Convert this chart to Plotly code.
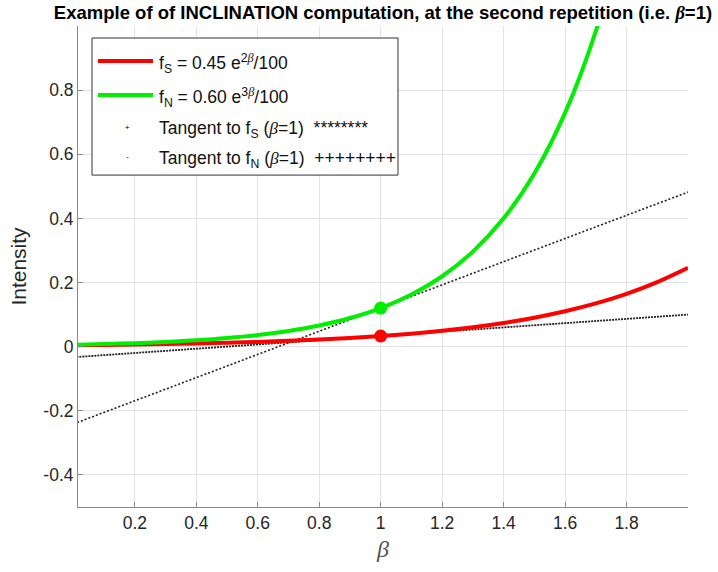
import plotly.graph_objects as go

# ---- data ----
beta = [0.0, 0.1, 0.2, 0.3, 0.4, 0.5, 0.6, 0.7, 0.8, 0.9, 1.0,
        1.1, 1.2, 1.3, 1.4, 1.5, 1.6, 1.7, 1.8, 1.9, 2.0]
f_s = [0.0045, 0.0055, 0.0067, 0.0082, 0.0100, 0.0122, 0.0149, 0.0183, 0.0223, 0.0272, 0.0333,
       0.0406, 0.0496, 0.0606, 0.0740, 0.0904, 0.1104, 0.1348, 0.1647, 0.2012, 0.2457]
f_n = [0.0060, 0.0081, 0.0109, 0.0148, 0.0199, 0.0269, 0.0363, 0.0490, 0.0661, 0.0893, 0.1205,
       0.1627, 0.2196, 0.2964, 0.4001, 0.5401, 0.7291, 0.9841, 1.3280, None, None]
tan_x = [0.0, 2.0]
tan_s = [-0.033, 0.100]
tan_n = [-0.241, 0.482]
pt_x = [1.0]
pt_s = [0.0333]
pt_n = [0.1205]
xticks = [0.2, 0.4, 0.6, 0.8, 1.0, 1.2, 1.4, 1.6, 1.8]
xtick_text = ["0.2", "0.4", "0.6", "0.8", "1", "1.2", "1.4", "1.6", "1.8"]
yticks = [-0.4, -0.2, 0, 0.2, 0.4, 0.6, 0.8]
ytick_text = ["-0.4", "-0.2", "0", "0.2", "0.4", "0.6", "0.8"]

FONT = "Liberation Sans, Arial, sans-serif"
BETA = '<span style="font-family:Liberation Serif, serif"><i>β</i></span>'

fig = go.Figure()
fig.add_trace(go.Scatter(x=tan_x, y=tan_s, mode="lines",
                         line=dict(color="#222222", width=1.8, dash="2px,1px"), showlegend=False))
fig.add_trace(go.Scatter(x=tan_x, y=tan_n, mode="lines",
                         line=dict(color="#222222", width=1.6, dash="2px,2px"), showlegend=False))
fig.add_trace(go.Scatter(x=beta, y=f_s, mode="lines", line=dict(color="#ff0000", width=4, shape="spline"),
                         showlegend=False))
fig.add_trace(go.Scatter(x=beta, y=f_n, mode="lines", line=dict(color="#00ee00", width=4, shape="spline"),
                         showlegend=False))
fig.add_trace(go.Scatter(x=pt_x, y=pt_s, mode="markers", marker=dict(color="#ff0000", size=13), showlegend=False))
fig.add_trace(go.Scatter(x=pt_x, y=pt_n, mode="markers", marker=dict(color="#00ee00", size=13), showlegend=False))

# ---- plot area geometry in pixels ----
L, R, T, B = 78, 688, 26, 506.7
W, H = 718, 572


def px(x):
    return (x - L) / (R - L)


def py(y):
    return (B - y) / (B - T)


shapes = []
annotations = []
# legend box
shapes.append(dict(type="rect", xref="paper", yref="paper", x0=px(92), x1=px(398), y0=py(38), y1=py(175),
                   line=dict(color="#333333", width=1), fillcolor="white", layer="above"))
rows = [61, 95, 127, 157]
shapes.append(dict(type="line", xref="paper", yref="paper", x0=px(98), x1=px(153), y0=py(rows[0]), y1=py(rows[0]),
                   line=dict(color="#ff0000", width=4), layer="above"))
shapes.append(dict(type="line", xref="paper", yref="paper", x0=px(98), x1=px(153), y0=py(rows[1]), y1=py(rows[1]),
                   line=dict(color="#00ee00", width=4), layer="above"))
labels = [
    "f<sub>S</sub> = 0.45 e<sup>2" + BETA + "</sup>/100",
    "f<sub>N</sub> = 0.60 e<sup>3" + BETA + "</sup>/100",
    "Tangent to f<sub>S</sub> (" + BETA + "=1)  ********",
    "Tangent to f<sub>N</sub> (" + BETA + "=1)  ++++++++",
]
for r, lab in zip(rows, labels):
    annotations.append(dict(xref="paper", yref="paper", x=px(157), y=py(r + 2), text=lab, showarrow=False,
                            xanchor="left", yanchor="middle", font=dict(family=FONT, size=17.5, color="#111111")))
annotations.append(dict(xref="paper", yref="paper", x=px(127), y=py(rows[2]), text="+", showarrow=False,
                        xanchor="center", yanchor="middle", font=dict(family=FONT, size=8, color="#000000")))
annotations.append(dict(xref="paper", yref="paper", x=px(127), y=py(rows[3]), text="·", showarrow=False,
                        xanchor="center", yanchor="middle", font=dict(family=FONT, size=10, color="#000000")))

fig.update_layout(
    width=W, height=H,
    margin=dict(l=L, r=W - R, t=T, b=H - B),
    plot_bgcolor="white", paper_bgcolor="white",
    font=dict(family=FONT, color="#262626"),
    title=dict(text="<b>Example of of INCLINATION computation, at the second repetition (i.e. </b>"
                    + '<span style="font-family:Liberation Serif, serif"><b><i>β</i></b></span><b>=1)</b>',
               x=(L + R) / 2 / W, xanchor="center", y=1 - 13 / H, yanchor="middle",
               font=dict(family=FONT, size=18.5, color="#000000")),
    xaxis=dict(range=[0.015, 2.0], tickvals=xticks, ticktext=xtick_text,
               showgrid=True, gridcolor="#e3e3e3", gridwidth=1, zeroline=False,
               showline=True, linecolor="#8a8a8a", linewidth=1, mirror=False,
               ticks="inside", ticklen=5, tickcolor="#8a8a8a",
               tickfont=dict(family=FONT, size=17.5, color="#262626"),
               title=dict(text=BETA, font=dict(size=24, color="#555555"), standoff=8)),
    yaxis=dict(range=[-0.5, 1.0], tickvals=yticks, ticktext=ytick_text,
               showgrid=True, gridcolor="#e3e3e3", gridwidth=1, zeroline=False,
               showline=True, linecolor="#8a8a8a", linewidth=1, mirror=False,
               ticks="inside", ticklen=5, tickcolor="#8a8a8a",
               tickfont=dict(family=FONT, size=17.5, color="#262626"),
               title=dict(text="Intensity", font=dict(family=FONT, size=21, color="#262626"), standoff=10)),
    shapes=shapes, annotations=annotations, showlegend=False,
)

fig.write_html("out.html", config={"displayModeBar": False},
               post_script="document.body.style.margin='0px';")
